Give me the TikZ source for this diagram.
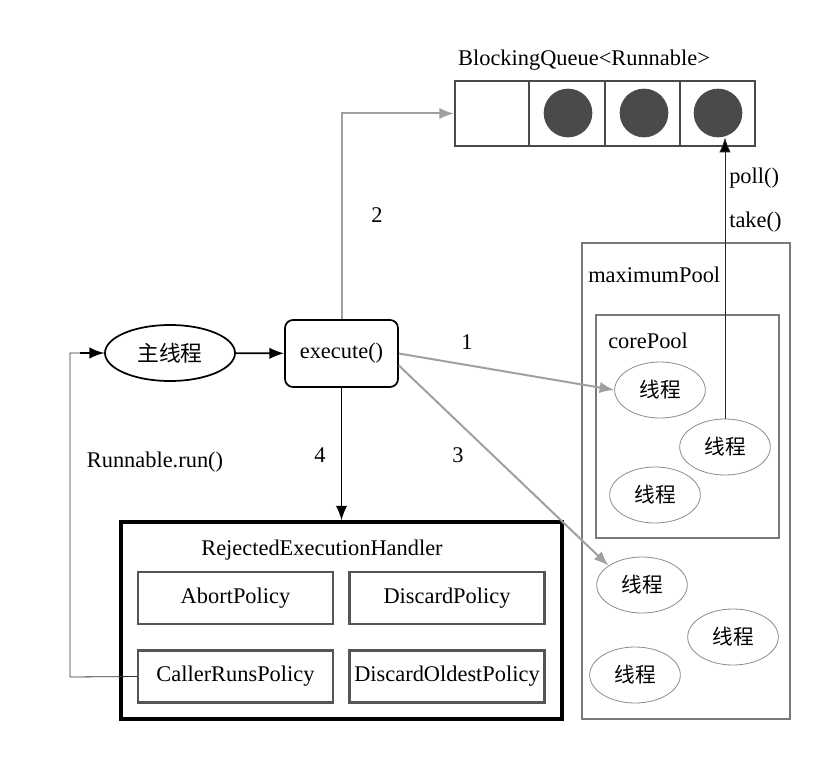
\documentclass[tikz,border=0pt]{standalone}
\usepackage{fontspec}
\setmainfont{Liberation Serif}
\newfontfamily\cjk{Noto Sans CJK SC}
\usetikzlibrary{shapes.geometric,arrows.meta}
\definecolor{qgray}{HTML}{4A4A4A}
\definecolor{pgray}{HTML}{7A7A7A}
\definecolor{agray}{HTML}{A0A0A0}
\definecolor{tgray}{HTML}{8C8C8C}
\definecolor{bgray}{HTML}{555555}
\begin{document}
\begin{tikzpicture}[x=0.75pt,y=-0.75pt,
  txt/.style={font=\fontsize{16.8}{19}\selectfont, inner sep=0pt},
  thr/.style={ellipse, draw=tgray, line width=0.6pt, minimum width=68pt, minimum height=42pt, inner sep=0pt, font=\cjk\fontsize{15.5}{17}\selectfont},
  garrow/.style={draw=agray, line width=1.5pt, -{Latex[length=11pt,width=8.5pt]}},
  barrow/.style={draw=black, line width=1.3pt, -{Latex[length=11pt,width=8.5pt]}},
  policy/.style={draw=bgray, line width=1.9pt, minimum width=146pt, minimum height=39pt, inner sep=0pt, font=\fontsize{16.8}{19}\selectfont},
  pool/.style={draw=pgray, line width=1.6pt, inner sep=0pt},
  ball/.style={circle, fill=qgray, minimum size=36.5pt, inner sep=0pt}
]
\useasboundingbox (0,0) rectangle (837,756);

% Blocking queue
\node[txt] (qlabel) at (584,60) {BlockingQueue<Runnable>};
\node[draw=qgray, line width=1.5pt, minimum width=225pt, minimum height=48.75pt, inner sep=0pt] (queue) at (605,113.5) {};
\draw[qgray, line width=1.5pt] (529,81) -- (529,146) (605,81) -- (605,146) (680,81) -- (680,146);
\node[ball] (c1) at (568,113) {};
\node[ball] (c2) at (644,113) {};
\node[ball] (c3) at (718,113) {};

% main thread and execute
\node[ellipse, draw=black, line width=1.3pt, minimum width=97.5pt, minimum height=42pt, inner sep=0pt, font=\cjk\fontsize{16.3}{18}\selectfont] (main) at (170,353) {主线程};
\node[draw=black, line width=1.3pt, rounded corners=6pt, minimum width=84.75pt, minimum height=50.25pt, inner sep=0pt, font=\fontsize{16.8}{19}\selectfont] (exec) at (341.5,353.5) {execute()};

% pools
\node[pool, minimum width=156pt, minimum height=357pt] (maxpool) at (686,481) {};
\node[pool, minimum width=137.25pt, minimum height=167.25pt] (corepool) at (687.5,426.5) {};
\node[txt, anchor=west] (maxlabel) at (588,275) {maximumPool};
\node[txt, anchor=west] (corelabel) at (608,341) {corePool};

\node[thr] (t1) at (660,390) {线程};
\node[thr] (t2) at (725,447) {线程};
\node[thr] (t3) at (655,495) {线程};
\node[thr] (tA) at (642,585) {线程};
\node[thr] (tB) at (733,637) {线程};
\node[thr] (tC) at (635,675) {线程};

% rejected handler
\node[draw=black, line width=2.3pt, minimum width=330.75pt, minimum height=147.75pt, inner sep=0pt] (rej) at (341.5,620.5) {};
\node[txt] (rejlabel) at (322,550) {RejectedExecutionHandler};
\node[policy] (abort) at (235.5,598) {AbortPolicy};
\node[policy] (discard) at (447,598) {DiscardPolicy};
\node[policy] (crp) at (235.5,676.5) {CallerRunsPolicy};
\node[policy] (dop) at (447,676.5) {DiscardOldestPolicy};

% connectors
\draw[barrow] (main) -- (exec);
\draw[garrow] (exec.north) |- (queue.west);
\draw[barrow] (exec.south) -- (exec.south |- rej.north);
\draw[garrow] (exec.east) -- (t1.west);
\draw[garrow] ([yshift=-9pt]exec.east) -- (tA.150);
\draw[black!85, line width=0.6pt, -{Latex[length=11pt,width=8.5pt,fill=black]}] (t2.north) -- (t2.north |- c3.south);
\coordinate (fb) at (70,677);
\draw[black!80, line width=0.6pt] (crp.west) -- (fb) |- (main.west);
\draw[barrow] (80,353) -- (main.west);

% labels
\node[txt] (l2) at (377,215) {2};
\node[txt] (l1) at (467,342) {1};
\node[txt] (l3) at (458,455) {3};
\node[txt] (l4) at (320,455) {4};
\node[txt] (lrun) at (155,462) {Runnable.run()};
\node[txt, anchor=west] (lpoll) at (729,178) {poll()};
\node[txt, anchor=west] (ltake) at (729,222) {take()};
\end{tikzpicture}
\end{document}
